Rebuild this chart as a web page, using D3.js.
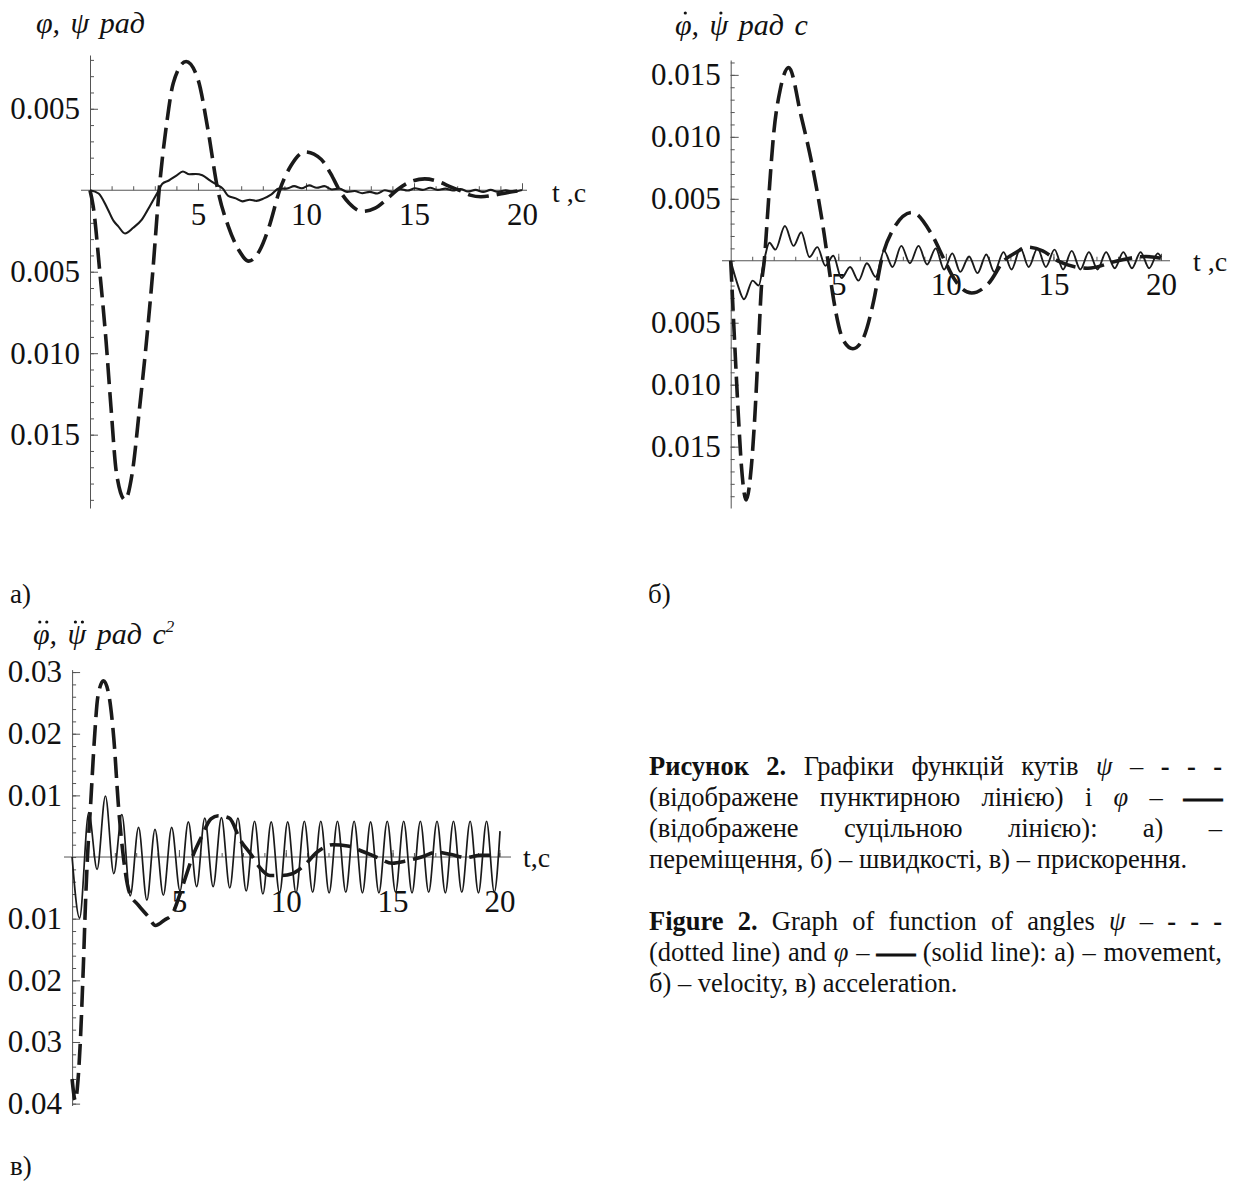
<!DOCTYPE html>
<html>
<head>
<meta charset="utf-8">
<script src="https://cdn.jsdelivr.net/npm/d3@7"></script>
<style>
  body { margin: 0; background: #fff; }
  svg text { font-family: "Liberation Serif", "Times New Roman", serif; fill: #111; }
</style>
</head>
<body>
<svg id="fig" width="1238" height="1203"></svg>
<script>
//curves: [t (s), value]
//a) displacement
let psiA = [[0,0],[0.15,-0.001],[0.46,-0.0051],[0.74,-0.0092],[0.97,-0.0133],[1.23,-0.0174],[1.62,-0.019],
  [1.95,-0.0174],[2.3,-0.0133],[2.62,-0.0092],[2.9,-0.0051],[3.2,0],[3.55,0.0041],[3.86,0.0066],[4.45,0.0079],
  [5.0,0.0068],[5.45,0.0038],[5.92,0],[6.4,-0.0022],[6.9,-0.0037],[7.35,-0.00435],[7.85,-0.0037],[8.3,-0.0022],
  [8.78,0],[9.3,0.0015],[9.95,0.00235],[10.7,0.0019],[11.15,0.001],[11.55,0],[12.0,-0.0008],[12.6,-0.0013],
  [13.2,-0.0011],[13.7,-0.0006],[14.2,0],[14.8,0.0005],[15.5,0.0007],[16.2,0.0005],[16.7,0.0002],[17.1,0],
  [17.6,-0.0003],[18.1,-0.0004],[18.7,-0.0003],[19.3,-0.00015],[20,0]]

let phiA = [[0,0],[0.4,-0.0002],[0.8,-0.0011],[1.1,-0.0019],[1.3,-0.0022],[1.62,-0.00265],[2.0,-0.0023],
  [2.4,-0.0018],[2.8,-0.0009],[3.1,-0.0002],[3.35,0.0004],[3.65,0.0006],[4.0,0.0009],[4.3,0.00115],[4.6,0.00098],
  [4.9,0.001],[5.2,0.00092],[5.55,0.0006],[5.85,0.00035],[6.15,0.0001],[6.4,-0.00035],[6.75,-0.0005],
  [7.05,-0.00068],[7.4,-0.00058],[7.7,-0.00065],[8.05,-0.0005],[8.4,-0.00025],[8.75,0.0001],[9.1,0.0001],
  [9.45,0.00025],[9.8,0.00012],[10.15,0.0003],[10.5,0.00015],[10.85,0.00025],[11.2,0.00005],[11.55,0.0001],
  [11.9,-0.0001],[12.25,-0.00005],[12.6,-0.00018],[12.95,-0.0001],[13.3,-0.0002],[13.65,0],[14.0,-0.0001],
  [14.35,0.00008],[14.7,-0.00002],[15.05,0.00012],[15.4,0.00002],[15.75,0.00015],[16.1,0.00002],[16.45,0.0001],
  [16.8,-0.00002],[17.15,0.00008],[17.5,-0.00008],[17.85,0.00002],[18.2,-0.0001],[18.55,0.00002],[18.9,-0.0001],
  [19.25,0],[19.6,-0.00008],[20,0.00002]]

//b) velocity
let psiB = [[0,0],[0.05,-0.0018],[0.2,-0.0072],[0.36,-0.0126],[0.5,-0.0166],[0.72,-0.0193],[0.96,-0.0166],
  [1.12,-0.0126],[1.28,-0.0072],[1.44,-0.0018],[1.56,0],[1.76,0.0049],[2.0,0.0103],[2.3,0.0138],[2.7,0.0156],
  [3.27,0.0117],[3.8,0.0076],[4.34,0.0022],[4.52,0],[4.79,-0.0032],[5.23,-0.0064],[5.68,-0.0071],[6.12,-0.0064],
  [6.65,-0.0032],[7.0,0],[7.54,0.0025],[8.43,0.0039],[9.32,0.0022],[9.95,0],[10.4,-0.0015],[11.2,-0.0026],
  [12.0,-0.0018],[12.7,0],[13.2,0.0006],[13.8,0.0011],[14.5,0.0008],[15.2,0],[16.6,-0.0006],[18.0,0],
  [19.3,0.00035],[20,0.0002]]

let phiB = [[0,0],[0.3,-0.0018],[0.62,-0.0031],[1.02,-0.0016],[1.3,-0.002],[1.55,0],[1.8,0.00145],[2.08,0.0009],
  [2.52,0.0028],[2.92,0.0012],[3.28,0.0023],[3.66,0.0003],[4.03,0.0011],[4.4,-0.0004],[4.77,0.0004],[5.15,-0.0014],
  [5.55,-0.0005],[5.94,-0.0016],[6.33,-0.0002],[6.74,-0.0013],[7.13,0.0008],[7.52,-0.0005],[7.93,0.0012],
  [8.33,-0.0002],[8.73,0.0012],[9.13,-0.0003],[9.53,0.001],[9.92,-0.0007],[10.3,0.0006],[10.67,-0.0009],
  [11.08,0.00035],[11.47,-0.001],[11.88,0.0005],[12.25,-0.0009],[12.68,0.0007],[13.05,-0.0007],[13.47,0.001],
  [13.85,-0.0005],[14.26,0.001],[14.65,-0.0005],[15.05,0.0009],[15.45,-0.0007],[15.85,0.0008],[16.25,-0.0007],
  [16.65,0.0007],[17.05,-0.0007],[17.45,0.0007],[17.85,-0.0006],[18.25,0.0007],[18.65,-0.0006],[19.05,0.0007],
  [19.45,-0.0006],[19.85,0.0006],[20,0.0003]]

//c) acceleration
let psiC = [[0,-0.036],[0.15,-0.0395],[0.28,-0.036],[0.38,-0.0303],[0.52,-0.0183],[0.64,-0.0063],[0.72,0],
  [0.87,0.0087],[1.04,0.0189],[1.21,0.0261],[1.47,0.0286],[1.73,0.0261],[1.96,0.0189],[2.16,0.0087],[2.4,0],
  [2.68,-0.0057],[3.1,-0.0078],[3.55,-0.0096],[3.9,-0.0111],[4.33,-0.0102],[4.68,-0.0093],[5.02,-0.0063],
  [5.28,-0.0036],[5.63,0],[6.06,0.0033],[6.5,0.0062],[6.84,0.0067],[7.36,0.0063],[7.88,0.0027],[8.4,0.0003],
  [8.74,-0.0015],[9.26,-0.003],[9.78,-0.003],[10.3,-0.0027],[10.82,-0.0015],[11.5,0.0009],[12.2,0.002],
  [12.9,0.0018],[13.6,0.0009],[14.3,-0.0001],[14.98,-0.001],[15.67,-0.0006],[16.36,0],[17.06,0.0008],
  [17.75,0.0004],[18.44,-0.0001],[19.1,0.0003],[20,0.0003]]

let phiC = [[0,0],[0.35,-0.0099],[0.78,0.0072],[1.17,-0.002],[1.56,0.0099],[1.95,-0.0027],[2.33,0.0069],
  [2.72,-0.0063],[3.11,0.0048],[3.5,-0.007],[3.88,0.0045],[4.27,-0.0062],[4.66,0.0048],[5.05,-0.0055],
  [5.44,0.0057],[5.83,-0.0048],[6.21,0.0063],[6.6,-0.0048],[6.99,0.0064],[7.38,-0.005],[7.76,0.0063],
  [8.15,-0.0055],[8.54,0.0058],[8.93,-0.006],[9.32,0.0057],[9.71,-0.0059],[10.09,0.0057],[10.48,-0.0058],
  [10.87,0.0058],[11.26,-0.0057],[11.64,0.0058],[12.03,-0.0058],[12.42,0.0058],[12.81,-0.0057],[13.2,0.0058],
  [13.59,-0.0058],[13.97,0.0057],[14.36,-0.0058],[14.75,0.0058],[15.14,-0.0057],[15.52,0.0058],[15.91,-0.0058],
  [16.3,0.0058],[16.69,-0.0057],[17.08,0.0058],[17.47,-0.0058],[17.85,0.0058],[18.24,-0.0057],[18.63,0.0058],
  [19.02,-0.0058],[19.4,0.0058],[19.76,-0.0057],[20.03,0.0042]]

//tick values
let xMajor = [5, 10, 15, 20]
let xMinor = d3.range(1, 21)
let yMajorA = [0.005, -0.005, -0.01, -0.015]
let yMajorB = [0.015, 0.01, 0.005, -0.005, -0.01, -0.015]
let yMajorC = [0.03, 0.02, 0.01, -0.01, -0.02, -0.03, -0.04]

let svg = d3.select('#fig')
let ink = '#1a1a1a'

//panel layout
let panels = [
  { x0: 90, x1: 522, yTop: 55, yBot: 508, yMin: -0.0195, yMax: 0.0083, major: yMajorA,
    minor: d3.range(-19, 9).map(d => d / 1000), fmt: '.3f', axL: 81, axR: 527, xPad: 13,
    tLab: 't ,c', tx: 552, tdy: 12, psi: psiA, phi: phiA, phiW: 2.1 },
  { x0: 730.7, x1: 1161, yTop: 60, yBot: 508, yMin: -0.01995, yMax: 0.0162, major: yMajorB,
    minor: d3.range(-19, 17).map(d => d / 1000), fmt: '.3f', axL: 722, axR: 1170, xPad: 12,
    tLab: 't ,c', tx: 1193, tdy: 10, psi: psiB, phi: phiB, phiW: 1.9 },
  { x0: 72.1, x1: 499.4, yTop: 669.6, yBot: 1105.5, yMin: -0.0403, yMax: 0.0304, major: yMajorC,
    minor: d3.range(-20, 16).map(d => d / 500), fmt: '.2f', axL: 64, axR: 511, xPad: 33,
    tLab: 't,c', tx: 523, tdy: 10, psi: psiC, phi: phiC, phiW: 1.7 }
]

function drawPanel(p) {
  let g = svg.append('g')
  let x = d3.scaleLinear().domain([0, 20]).range([p.x0, p.x1])
  let y = d3.scaleLinear().domain([p.yMin, p.yMax]).range([p.yBot, p.yTop])
  let y0 = y(0)

  //y axis: minor then major ticks (pointing right, into the plot)
  g.append('g')
    .attr('transform', `translate(${p.x0},0)`)
    .call(d3.axisLeft(y).tickValues(p.minor).tickSize(-4).tickSizeOuter(0).tickFormat(''))
    .call(a => a.select('.domain').remove())
  g.append('g')
    .attr('transform', `translate(${p.x0},0)`)
    .call(d3.axisLeft(y).tickValues(p.major).tickSize(-8).tickSizeOuter(0).tickPadding(10)
      .tickFormat(d => d3.format(p.fmt)(Math.abs(d))))

  //x axis at zero
  g.append('line')
    .attr('x1', p.axL).attr('x2', p.axR)
    .attr('y1', y0).attr('y2', y0)
    .attr('stroke', '#555').attr('stroke-width', 1)
  g.append('g')
    .attr('transform', `translate(0,${y0})`)
    .call(d3.axisBottom(x).tickValues(xMinor).tickSize(-4).tickFormat(''))
    .call(a => a.select('.domain').remove())
  g.append('g')
    .attr('transform', `translate(0,${y0})`)
    .call(d3.axisBottom(x).tickValues(xMajor).tickSize(-7).tickPadding(p.xPad))
    .call(a => a.select('.domain').remove())

  g.selectAll('.tick line, .domain').attr('stroke', '#555')
  g.selectAll('.tick text')
    .attr('fill', '#111')
    .attr('font-size', 31)
  g.selectAll('g').attr('font-family', null).attr('font-size', null)

  g.append('text')
    .attr('x', p.tx).attr('y', y0 + p.tdy)
    .attr('font-size', 28)
    .text(p.tLab)

  let line = d3.line()
    .x(d => x(d[0]))
    .y(d => y(d[1]))
    .curve(d3.curveMonotoneX)

  g.append('path')
    .datum(p.phi)
    .attr('d', line)
    .attr('fill', 'none')
    .attr('stroke', ink)
    .attr('stroke-width', p.phiW)

  g.append('path')
    .datum(p.psi)
    .attr('d', line)
    .attr('fill', 'none')
    .attr('stroke', ink)
    .attr('stroke-width', 3.6)
    .attr('stroke-dasharray', '21 8')
}

panels.forEach(drawPanel)

//axis titles, dots over the greek letters drawn as accents
function title(x, y, size, dots, sup) {
  let t = svg.append('text')
    .attr('x', x).attr('y', y)
    .attr('font-size', size)
    .attr('font-style', 'italic')
    .attr('word-spacing', 3)
  t.append('tspan').text('φ, ψ рад' + (dots ? ' с' : ''))
  if (sup) t.append('tspan').attr('dy', -12).attr('font-size', 17).text('2')
  if (!dots) return
  ;[0, 3].forEach(i => {
    let b = t.node().getExtentOfChar(i)
    let cx = b.x + b.width / 2 + 2
    let cy = b.y + 5
    let offs = dots == 1 ? [0] : [-3.5, 3.5]
    offs.forEach(o => svg.append('circle')
      .attr('cx', cx + o).attr('cy', cy).attr('r', 1.6).attr('fill', '#111'))
  })
}
title(36, 33, 30, 0, false)
title(675, 35, 30, 1, false)
title(33, 644, 30, 2, true)

//panel letters
let letters = [['а)', 10, 603], ['б)', 648, 603], ['в)', 10, 1175]]
letters.forEach(l => svg.append('text')
  .attr('x', l[1]).attr('y', l[2])
  .attr('font-size', 27)
  .text(l[0]))

//caption, justified like the page
let capLines = [
  { y: 775, just: true, toks: [['Рисунок', 'b'], ['2.', 'b'], 'Графіки', 'функцій', 'кутів', ['ψ', 'i'], '–', ['-', 'b'], ['-', 'b'], ['-', 'b']] },
  { y: 806, just: true, toks: ['(відображене', 'пунктирною', 'лінією)', 'і', ['φ', 'i'], '–', ['—', 'L']] },
  { y: 837, just: true, toks: ['(відображене', 'суцільною', 'лінією):', 'а)', '–'] },
  { y: 868, just: false, toks: ['переміщення,', 'б)', '–', 'швидкості,', 'в)', '–', 'прискорення.'] },
  { y: 930, just: true, toks: [['Figure', 'b'], ['2.', 'b'], 'Graph', 'of', 'function', 'of', 'angles', ['ψ', 'i'], '–', ['-', 'b'], ['-', 'b'], ['-', 'b']] },
  { y: 961, just: true, toks: ['(dotted', 'line)', 'and', ['φ', 'i'], '–', ['—', 'L'], '(solid', 'line):', 'а)', '–', 'movement,'] },
  { y: 992, just: false, toks: ['б)', '–', 'velocity,', 'в)', 'acceleration.'] }
]
let capX0 = 649, capX1 = 1222, capSize = 26.5

capLines.forEach(ln => {
  let nodes = ln.toks.map(tk => {
    let s = typeof tk == 'string' ? tk : tk[0]
    let st = typeof tk == 'string' ? '' : tk[1]
    let t = svg.append('text')
      .attr('y', ln.y)
      .attr('font-size', capSize)
      .text(s)
    if (st == 'b' || st == 'L') t.attr('font-weight', 'bold')
    if (st == 'i') t.attr('font-style', 'italic')
    if (st == 'L') t.attr('textLength', 38).attr('lengthAdjust', 'spacingAndGlyphs')
      .attr('stroke', '#111').attr('stroke-width', 1.2)
    return t
  })
  let widths = nodes.map(n => n.attr('textLength') ? +n.attr('textLength') : n.node().getComputedTextLength())
  let total = d3.sum(widths)
  let gap = ln.just ? (capX1 - capX0 - total) / (nodes.length - 1) : capSize * 0.25
  let cx = capX0
  nodes.forEach((n, i) => {
    n.attr('x', cx)
    cx += widths[i] + gap
  })
})
</script>
</body>
</html>
